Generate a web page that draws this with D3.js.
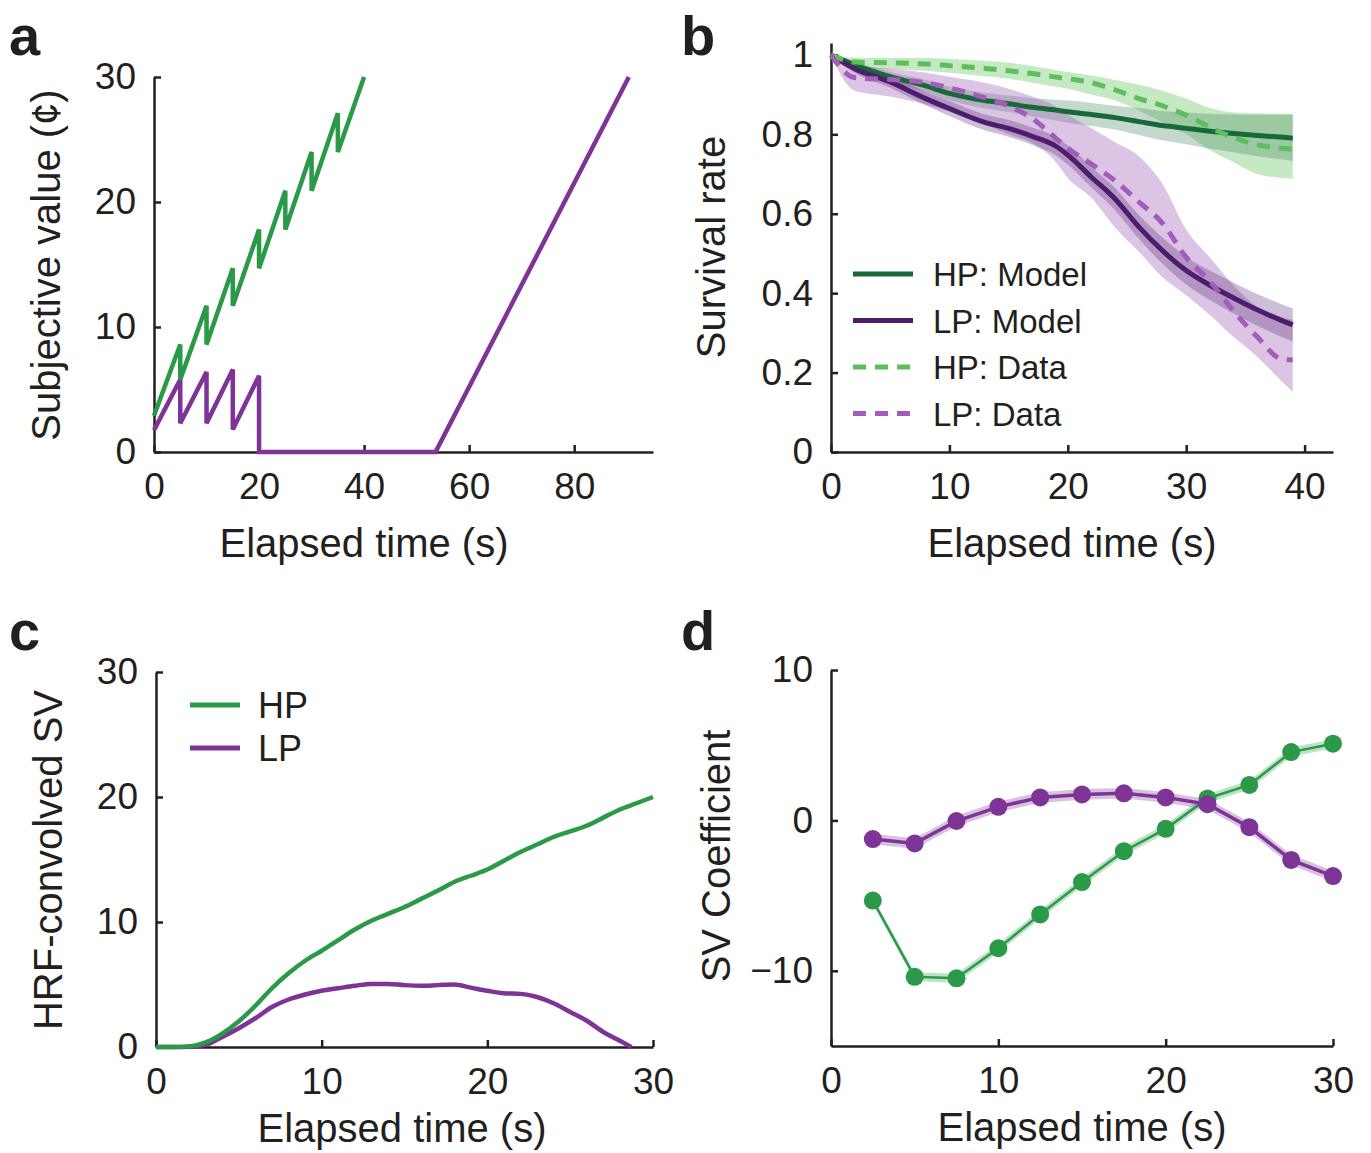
<!DOCTYPE html>
<html>
<head>
<meta charset="utf-8">
<script src="https://cdn.jsdelivr.net/npm/d3@7"></script>
<style>
  body { margin: 0; background: #fff; }
  text { font-family: "Liberation Sans", Arial, sans-serif; fill: #231f20; }
</style>
</head>
<body>
<script>
// panel a: subjective value sawtooth
var aHpT = [0, 5, 5, 10, 10, 15, 15, 20, 20, 25, 25, 30, 30, 35, 35, 40];
var aHpV = [2.9, 8.6, 5.8, 11.7, 8.6, 14.7, 11.7, 17.8, 14.7, 20.9, 17.8, 24.0, 20.9, 27.1, 24.0, 30];
var aLpT = [0, 5, 5, 10, 10, 15, 15, 20, 20, 53.6, 90.4];
var aLpV = [1.75, 5.8, 2.3, 6.4, 2.3, 6.6, 1.8, 6.1, 0, 0, 30];

// panel b: survival curves
var bT = [0, 2, 5, 8, 10, 13, 15, 17, 19, 20, 22, 24, 26, 28, 30, 32, 34, 36, 38, 39];
var hpModel   = [1, 0.975, 0.945, 0.922, 0.903, 0.885, 0.877, 0.868, 0.861, 0.857, 0.85, 0.842, 0.832, 0.822, 0.815, 0.808, 0.802, 0.797, 0.793, 0.79];
var hpModelHi = [1, 0.982, 0.957, 0.937, 0.92, 0.905, 0.898, 0.891, 0.887, 0.885, 0.879, 0.872, 0.866, 0.859, 0.855, 0.852, 0.85, 0.849, 0.849, 0.849];
var hpModelLo = [1, 0.968, 0.933, 0.907, 0.886, 0.865, 0.856, 0.845, 0.835, 0.829, 0.821, 0.812, 0.798, 0.785, 0.775, 0.764, 0.755, 0.745, 0.737, 0.733];
var lpModel   = [1, 0.965, 0.932, 0.89, 0.865, 0.83, 0.815, 0.795, 0.77, 0.748, 0.692, 0.637, 0.567, 0.507, 0.457, 0.42, 0.388, 0.358, 0.332, 0.32];
var lpModelHi = [1, 0.975, 0.947, 0.907, 0.884, 0.85, 0.836, 0.817, 0.793, 0.772, 0.718, 0.665, 0.597, 0.54, 0.492, 0.457, 0.427, 0.398, 0.373, 0.362];
var lpModelLo = [1, 0.955, 0.917, 0.873, 0.846, 0.81, 0.794, 0.773, 0.747, 0.724, 0.666, 0.609, 0.537, 0.474, 0.422, 0.383, 0.349, 0.318, 0.291, 0.278];
var hpData    = [1, 0.982, 0.98, 0.977, 0.973, 0.966, 0.96, 0.953, 0.944, 0.94, 0.93, 0.912, 0.89, 0.872, 0.848, 0.818, 0.792, 0.774, 0.765, 0.763];
var hpDataHi  = [1, 0.993, 0.993, 0.992, 0.99, 0.985, 0.98, 0.972, 0.962, 0.957, 0.948, 0.937, 0.925, 0.91, 0.89, 0.866, 0.855, 0.853, 0.852, 0.852];
var hpDataLo  = [1, 0.965, 0.963, 0.96, 0.955, 0.946, 0.94, 0.93, 0.92, 0.915, 0.9, 0.885, 0.86, 0.83, 0.8, 0.76, 0.73, 0.7, 0.69, 0.688];
var lpData    = [1, 0.943, 0.938, 0.93, 0.917, 0.892, 0.872, 0.84, 0.79, 0.765, 0.725, 0.683, 0.63, 0.576, 0.49, 0.43, 0.355, 0.29, 0.235, 0.232];
var lpDataHi  = [1, 0.975, 0.965, 0.955, 0.945, 0.93, 0.915, 0.895, 0.87, 0.85, 0.815, 0.78, 0.745, 0.675, 0.56, 0.49, 0.42, 0.365, 0.34, 0.333];
var lpDataLo  = [1, 0.91, 0.895, 0.875, 0.857, 0.825, 0.8, 0.778, 0.73, 0.69, 0.64, 0.565, 0.505, 0.44, 0.395, 0.345, 0.29, 0.24, 0.18, 0.151];
var bLegend = ["HP: Model", "LP: Model", "HP: Data", "LP: Data"];

// panel c: HRF-convolved SV
var cT   = [0, 1, 2, 3, 4, 5, 6, 7, 8, 9, 10, 11, 12, 13, 14, 15, 16, 17, 18, 19, 20, 21, 22, 23, 24, 25, 26, 27, 28, 29, 30];
var cHp  = [0, 0, 0.05, 0.37, 1.07, 2.06, 3.3, 4.7, 5.9, 6.9, 7.7, 8.55, 9.4, 10.1, 10.65, 11.2, 11.85, 12.5, 13.2, 13.7, 14.2, 14.9, 15.6, 16.2, 16.8, 17.25, 17.7, 18.35, 19.0, 19.5, 20.0];
var cLpT = [0, 1, 2, 3, 4, 5, 6, 7, 8, 9, 10, 11, 12, 13, 14, 15, 16, 17, 18, 19, 20, 21, 22, 23, 24, 25, 26, 27, 28, 28.7];
var cLp  = [0, 0, 0.02, 0.17, 0.8, 1.5, 2.3, 3.2, 3.8, 4.2, 4.5, 4.7, 4.9, 5.05, 5.05, 4.95, 4.9, 4.95, 5.0, 4.75, 4.5, 4.3, 4.25, 4.0, 3.5, 2.8, 2.1, 1.2, 0.5, 0];

// panel d: SV coefficients
var dT     = [2.5, 5, 7.5, 10, 12.5, 15, 17.5, 20, 22.5, 25, 27.5, 30];
var dHp    = [-5.33, -10.4, -10.5, -8.5, -6.25, -4.1, -2.05, -0.56, 1.46, 2.36, 4.54, 5.1];
var dHpErr = [0.2, 0.3, 0.3, 0.3, 0.3, 0.3, 0.3, 0.3, 0.3, 0.3, 0.3, 0.3];
var dLp    = [-1.24, -1.53, -0.04, 0.9, 1.53, 1.73, 1.8, 1.53, 1.08, -0.45, -2.63, -3.7];
var dLpErr = [0.35, 0.35, 0.35, 0.35, 0.35, 0.35, 0.35, 0.35, 0.35, 0.35, 0.35, 0.35];

var green = "#2b9a48", purple = "#7e3396";

var svg = d3.select("body").append("svg")
    .attr("width", 1371)
    .attr("height", 1153);

function zip(t, v) { return t.map((d, i) => [d, v[i]]); }

// draws frame + axes for one panel, returns scales
function panel(o) {
  var x = d3.scaleLinear().domain(o.xd).range([o.left, o.right]);
  var y = d3.scaleLinear().domain(o.yd).range([o.bottom, o.top]);
  var g = svg.append("g");

  g.append("g")
    .attr("transform", "translate(0," + o.bottom + ")")
    .call(d3.axisBottom(x).tickValues(o.xt).tickSizeInner(-7).tickSizeOuter(0).tickPadding(21))
    .call(s => s.selectAll("text").style("font-size", "37px").attr("fill", "#231f20"));
  g.append("g")
    .attr("transform", "translate(" + o.left + ",0)")
    .call(d3.axisLeft(y).tickValues(o.yt).tickFormat(d3.format("~g"))
      .tickSizeInner(-7).tickSizeOuter(0).tickPadding(18))
    .call(s => s.selectAll("text").style("font-size", "37px").attr("fill", "#231f20"));
  g.selectAll(".domain").attr("stroke", "#231f20").attr("stroke-width", 2.5);
  g.selectAll(".tick line").attr("stroke", "#231f20").attr("stroke-width", 2.5);

  svg.append("text")
    .attr("x", o.xlab[0]).attr("y", o.xlab[1])
    .attr("text-anchor", "middle")
    .style("font-size", "40px")
    .text("Elapsed time (s)");
  svg.append("text")
    .attr("transform", "translate(" + o.ylab[0] + "," + o.ylab[1] + ") rotate(-90)")
    .attr("text-anchor", "middle")
    .style("font-size", "40px")
    .text(o.ytitle);
  svg.append("text")
    .attr("x", o.tag[0]).attr("y", o.tag[1])
    .style("font-size", "56px").style("font-weight", "bold")
    .text(o.letter);
  return {x: x, y: y};
}

// ---- a
var A = panel({left: 154, right: 653, top: 77, bottom: 452, xd: [0, 95], yd: [0, 30],
  xt: [0, 20, 40, 60, 80], yt: [0, 10, 20, 30], xlab: [364, 557], ylab: [60, 265],
  ytitle: "Subjective value (\u00A2)", tag: [9, 55], letter: "a"});
var lineA = d3.line().x(d => A.x(d[0])).y(d => A.y(d[1]));
svg.append("path").attr("d", lineA(zip(aLpT, aLpV)))
  .attr("fill", "none").attr("stroke", purple).attr("stroke-width", 4.5);
svg.append("path").attr("d", lineA(zip(aHpT, aHpV)))
  .attr("fill", "none").attr("stroke", green).attr("stroke-width", 4.5);

// ---- b
var B = panel({left: 831, right: 1333, top: 43, bottom: 452, xd: [0, 42.4], yd: [0, 1.03],
  xt: [0, 10, 20, 30, 40], yt: [0, 0.2, 0.4, 0.6, 0.8, 1], xlab: [1072, 557], ylab: [725, 247],
  ytitle: "Survival rate", tag: [681, 55], letter: "b"});
var areaB = d3.area().curve(d3.curveMonotoneX)
  .x((d, i) => B.x(bT[i])).y0(d => B.y(d[0])).y1(d => B.y(d[1]));
var lineB = d3.line().curve(d3.curveMonotoneX).x(d => B.x(d[0])).y(d => B.y(d[1]));

var bands = [
  [hpDataLo, hpDataHi, "#7fcf79", 0.45],
  [hpModelLo, hpModelHi, "#3f7f55", 0.3],
  [lpDataLo, lpDataHi, "#a56cbb", 0.4],
  [lpModelLo, lpModelHi, "#4c1c6c", 0.28]
];
bands.forEach(b => {
  svg.append("path").attr("d", areaB(zip(b[0], b[1])))
    .attr("fill", b[2]).attr("fill-opacity", b[3]);
});

var bSeries = [
  [hpModel, "#17693a", null],
  [lpModel, "#4d1d6d", null],
  [hpData, "#5cbf5c", "13,9"],
  [lpData, "#a45cbc", "13,9"]
];
bSeries.forEach(s => {
  svg.append("path").attr("d", lineB(zip(bT, s[0])))
    .attr("fill", "none").attr("stroke", s[1]).attr("stroke-width", 5)
    .attr("stroke-dasharray", s[2]);
});

// legend b
bSeries.forEach((s, i) => {
  var yy = 274 + i * 46.5;
  svg.append("line").attr("x1", 853).attr("x2", 913).attr("y1", yy).attr("y2", yy)
    .attr("stroke", s[1]).attr("stroke-width", 5).attr("stroke-dasharray", s[2]);
  svg.append("text").attr("x", 933).attr("y", yy + 12)
    .style("font-size", "33px").text(bLegend[i]);
});

// ---- c
var C = panel({left: 156, right: 653, top: 672, bottom: 1047, xd: [0, 30], yd: [0, 30],
  xt: [0, 10, 20, 30], yt: [0, 10, 20, 30], xlab: [402, 1142], ylab: [62, 860],
  ytitle: "HRF-convolved SV", tag: [9, 650], letter: "c"});
var lineC = d3.line().curve(d3.curveMonotoneX).x(d => C.x(d[0])).y(d => C.y(d[1]));
svg.append("path").attr("d", lineC(zip(cLpT, cLp)))
  .attr("fill", "none").attr("stroke", purple).attr("stroke-width", 4.5);
svg.append("path").attr("d", lineC(zip(cT, cHp)))
  .attr("fill", "none").attr("stroke", green).attr("stroke-width", 4.5);

[["HP", green], ["LP", purple]].forEach((s, i) => {
  var yy = 705 + i * 43;
  svg.append("line").attr("x1", 190).attr("x2", 240).attr("y1", yy).attr("y2", yy)
    .attr("stroke", s[1]).attr("stroke-width", 5);
  svg.append("text").attr("x", 258).attr("y", yy + 13)
    .style("font-size", "36px").text(s[0]);
});

// ---- d
var D = panel({left: 831, right: 1333, top: 670, bottom: 1046, xd: [0, 30], yd: [-15, 10],
  xt: [0, 10, 20, 30], yt: [-10, 0, 10], xlab: [1082, 1141], ylab: [730, 856],
  ytitle: "SV Coefficient", tag: [681, 650], letter: "d"});
var areaD = d3.area().x((d, i) => D.x(dT[i])).y0(d => D.y(d[0] - d[1])).y1(d => D.y(d[0] + d[1]));
var lineD = d3.line().x(d => D.x(d[0])).y(d => D.y(d[1]));

[[dHp, dHpErr, green, 2.5], [dLp, dLpErr, purple, 3.5]].forEach(s => {
  svg.append("path").attr("d", areaD(zip(s[0], s[1])))
    .attr("fill", s[2]).attr("fill-opacity", 0.3);
  svg.append("path").attr("d", lineD(zip(dT, s[0])))
    .attr("fill", "none").attr("stroke", s[2]).attr("stroke-width", s[3]);
  svg.append("g").selectAll("circle")
    .data(zip(dT, s[0]))
    .enter().append("circle")
      .attr("cx", d => D.x(d[0]))
      .attr("cy", d => D.y(d[1]))
      .attr("r", 9)
      .attr("fill", s[2]);
});
</script>
</body>
</html>
